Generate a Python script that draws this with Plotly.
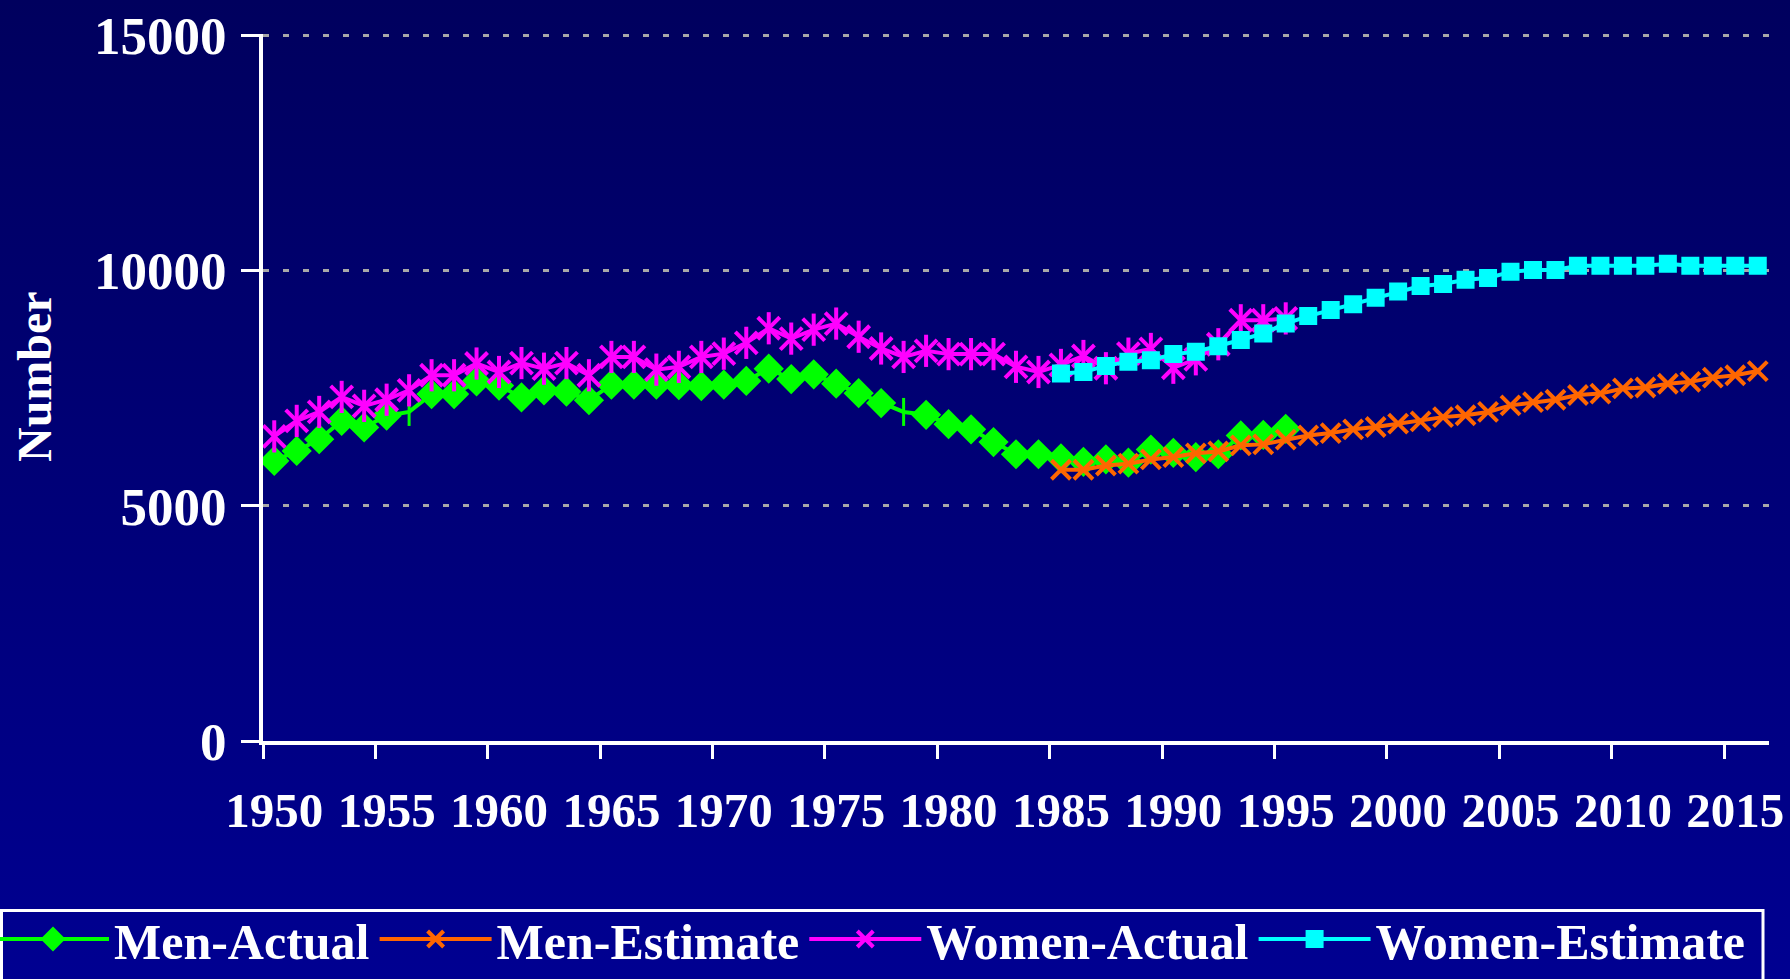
import base64
import plotly.graph_objects as go

# ---------------- data ----------------
MEN_ACTUAL_YEARS = list(range(1950, 1996))
MEN_ACTUAL = [5960, 6170, 6420, 6810, 6670, 6920, 7000, 7380, 7380, 7650,
              7560, 7310, 7460, 7430, 7250, 7580, 7580, 7580, 7570, 7550,
              7580, 7660, 7920, 7700, 7800, 7600, 7400, 7190, 7000, 6940,
              6740, 6630, 6360, 6100, 6100, 6010, 5940, 5990, 5920, 6200,
              6130, 6040, 6100, 6500, 6510, 6640]

WOMEN_ACTUAL_YEARS = list(range(1950, 1996))
WOMEN_ACTUAL = [6480, 6810, 7000, 7320, 7130, 7260, 7460, 7780, 7780, 8030,
                7850, 8040, 7920, 8040, 7780, 8170, 8170, 7900, 7960, 8170,
                8240, 8470, 8780, 8560, 8750, 8880, 8600, 8350, 8170, 8300,
                8230, 8230, 8230, 7960, 7850, 8000, 8190, 7930, 8240, 8340,
                7940, 8120, 8440, 8950, 8950, 8990]

MEN_ESTIMATE_YEARS = list(range(1985, 2017))
MEN_ESTIMATE = [5770, 5770, 5860, 5900, 5990, 6040, 6120, 6160, 6290, 6310,
                6410, 6500, 6550, 6630, 6680, 6750, 6800, 6890, 6930, 7000,
                7140, 7210, 7260, 7360, 7390, 7500, 7520, 7600, 7640, 7730,
                7780, 7870]

WOMEN_ESTIMATE_YEARS = list(range(1985, 2017))
WOMEN_ESTIMATE = [7820, 7850, 7980, 8070, 8100, 8230, 8280, 8400, 8530, 8670,
                  8880, 9040, 9170, 9290, 9430, 9560, 9680, 9720, 9810, 9850,
                  9980, 10020, 10020, 10110, 10110, 10110, 10110, 10150, 10110,
                  10110, 10110, 10110]

X_TICK_YEARS = [1950, 1955, 1960, 1965, 1970, 1975, 1980, 1985, 1990, 1995,
                2000, 2005, 2010, 2015]
Y_TICKS = [0, 5000, 10000, 15000]
SERIES_NAMES = ["Men-Actual", "Men-Estimate", "Women-Actual", "Women-Estimate"]

# ---------------- style ----------------
W, H = 1790, 979
ML, MR, MT, MB = 263, 21, 34, 238
FONT = "Liberation Serif"
GREEN, ORANGE, MAGENTA, CYAN = "#00FF00", "#FF6600", "#FF00FF", "#00FFFF"
TICK_MARKER_YEARS = {1956, 1978}   # points drawn with a vertical bar marker
XMIN, XMAX = MEN_ACTUAL_YEARS[0] - 0.5, MEN_ESTIMATE_YEARS[-1] + 0.5
YMAX = 15040   # a little headroom so the 15000 grid line is drawn
pw, ph = W - ML - MR, H - MT - MB
LW = 4


def px_x(p):  # figure pixel -> paper x
    return (p - ML) / pw


def px_y(p):  # figure pixel -> paper y
    return (MT + ph - p) / ph


fig = go.Figure()

green_symbols = ["line-ns" if yr in TICK_MARKER_YEARS else "diamond" for yr in MEN_ACTUAL_YEARS]
fig.add_trace(go.Scatter(
    x=MEN_ACTUAL_YEARS, y=MEN_ACTUAL, name=SERIES_NAMES[0], mode="lines+markers",
    line=dict(color=GREEN, width=LW),
    marker=dict(symbol=green_symbols, size=20, color=GREEN, line=dict(color=GREEN, width=3)),
))
fig.add_trace(go.Scatter(
    x=MEN_ESTIMATE_YEARS, y=MEN_ESTIMATE, name=SERIES_NAMES[1], mode="lines+markers",
    line=dict(color=ORANGE, width=LW),
    marker=dict(symbol="x-thin-open", size=19, color=ORANGE, line=dict(color=ORANGE, width=4)),
))
fig.add_trace(go.Scatter(
    x=WOMEN_ACTUAL_YEARS, y=WOMEN_ACTUAL, name=SERIES_NAMES[2], mode="lines+markers",
    legendgroup="wa",
    line=dict(color=MAGENTA, width=LW),
    marker=dict(symbol="x-thin-open", size=22, color=MAGENTA, line=dict(color=MAGENTA, width=4)),
))
fig.add_trace(go.Scatter(
    x=WOMEN_ACTUAL_YEARS, y=WOMEN_ACTUAL, name=SERIES_NAMES[2], mode="markers",
    legendgroup="wa", showlegend=False,
    marker=dict(symbol="line-ns-open", size=23, color=MAGENTA, line=dict(color=MAGENTA, width=4)),
))
fig.add_trace(go.Scatter(
    x=WOMEN_ESTIMATE_YEARS, y=WOMEN_ESTIMATE, name=SERIES_NAMES[3], mode="lines+markers",
    line=dict(color=CYAN, width=LW),
    marker=dict(symbol="square", size=16, color=CYAN, line=dict(color=CYAN, width=2)),
))
# helper trace so that the boundary tick axis is rendered
fig.add_trace(go.Scatter(x=[], y=[], xaxis="x2", showlegend=False, hoverinfo="skip"))

# gradient background image
svg = ('<svg xmlns="http://www.w3.org/2000/svg" width="10" height="100" preserveAspectRatio="none">'
       '<defs><linearGradient id="g" x1="0" y1="0" x2="0" y2="1">'
       '<stop offset="0" stop-color="#00005E"/><stop offset="1" stop-color="#000091"/>'
       '</linearGradient></defs><rect width="10" height="100" fill="url(#g)"/></svg>')
src = "data:image/svg+xml;base64," + base64.b64encode(svg.encode()).decode()
fig.add_layout_image(dict(
    source=src, xref="paper", yref="paper",
    x=px_x(0), y=px_y(0), sizex=W / pw, sizey=H / ph,
    xanchor="left", yanchor="top", sizing="stretch", layer="below",
))

# legend frame
fig.add_shape(type="rect", xref="paper", yref="paper",
              x0=px_x(1.5), x1=px_x(1763), y0=px_y(910.5), y1=px_y(1000),
              line=dict(color="white", width=3), fillcolor="rgba(0,0,0,0)", layer="above")

xtickfont = dict(family=FONT, size=49, color="white", weight="bold")
ytickfont = dict(family=FONT, size=53, color="white", weight="bold")

fig.update_layout(
    width=W, height=H,
    margin=dict(l=ML, r=MR, t=MT, b=MB, autoexpand=False),
    paper_bgcolor="#000078", plot_bgcolor="rgba(0,0,0,0)",
    font=dict(family=FONT, color="white"),
    xaxis=dict(
        range=[XMIN, XMAX], tickmode="array", tickvals=X_TICK_YEARS,
        ticktext=[str(v) for v in X_TICK_YEARS], ticks="", showgrid=False,
        zeroline=False, showline=True, linecolor="white", linewidth=4,
        tickfont=xtickfont, ticklabelstandoff=23,
    ),
    xaxis2=dict(
        overlaying="x", anchor="y", side="bottom", range=[XMIN, XMAX],
        tickmode="array", tickvals=[v - 0.5 for v in X_TICK_YEARS],
        ticks="outside", ticklen=17, tickwidth=3, tickcolor="white",
        showticklabels=False, showgrid=False, zeroline=False, showline=False,
    ),
    yaxis=dict(
        range=[0, YMAX], tickmode="array", tickvals=Y_TICKS,
        ticktext=[str(v) for v in Y_TICKS],
        ticks="outside", ticklen=18, tickwidth=3, tickcolor="white",
        showline=True, linecolor="white", linewidth=4, zeroline=False,
        showgrid=True, gridcolor="#A8A8A8", gridwidth=2.5, griddash="6px,14px",
        tickfont=ytickfont, ticklabelstandoff=4,
    ),
    legend=dict(
        orientation="h", xref="paper", yref="paper",
        x=px_x(-8), y=px_y(900), xanchor="left", yanchor="top",
        bgcolor="rgba(0,0,0,0)", borderwidth=0,
        font=dict(family=FONT, size=50, color="white", weight="bold"),
        itemwidth=112, traceorder="normal",
    ),
    annotations=[dict(
        text="Number", xref="paper", yref="paper", x=px_x(34), y=px_y(377),
        xanchor="center", yanchor="middle", textangle=-90, showarrow=False,
        font=dict(family=FONT, size=48, color="white", weight="bold"),
    )],
    showlegend=True,
)

fig.write_html("out.html", config={"displayModeBar": False},
               post_script="document.body.style.margin='0';document.body.style.overflow='hidden';")
